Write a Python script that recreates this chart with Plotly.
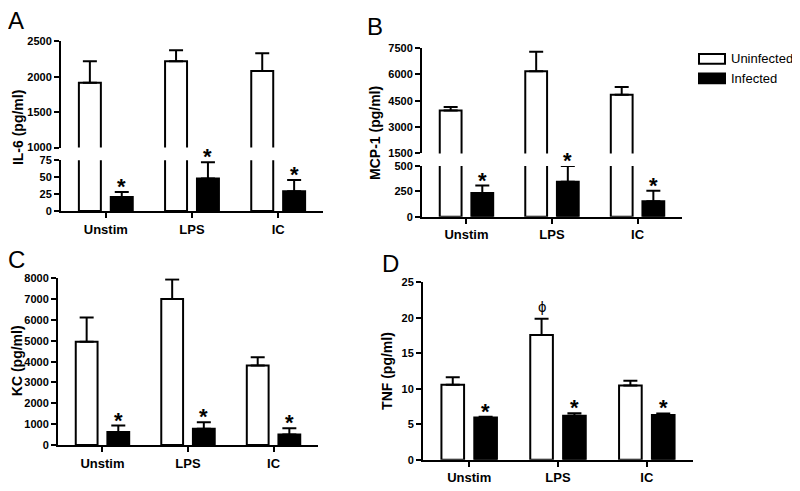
import plotly.graph_objects as go

# ---------------- data ----------------
categories = ["Unstim", "LPS", "IC"]

il6_uninf = [1915, 2220, 2080]
il6_uninf_err = [305, 155, 250]
il6_inf = [20.5, 48, 29]
il6_inf_err = [7.5, 24, 17]

mcp_uninf = [3940, 6180, 4850]
mcp_uninf_err = [210, 1110, 440]
mcp_inf = [234, 346, 154]
mcp_inf_err = [74, 154, 103]

kc_uninf = [4950, 7010, 3820]
kc_uninf_err = [1170, 930, 390]
kc_inf = [620, 780, 510]
kc_inf_err = [315, 310, 300]

tnf_uninf = [10.55, 17.55, 10.45]
tnf_uninf_err = [1.05, 2.3, 0.65]
tnf_inf = [5.95, 6.2, 6.3]
tnf_inf_err = [0.08, 0.35, 0.2]

il6_upper_ticks = [1000, 1500, 2000, 2500]
il6_lower_ticks = [0, 25, 50, 75]
mcp_upper_ticks = [1500, 3000, 4500, 6000, 7500]
mcp_lower_ticks = [0, 250, 500]
kc_ticks = [0, 1000, 2000, 3000, 4000, 5000, 6000, 7000, 8000]
tnf_ticks = [0, 5, 10, 15, 20, 25]

# ---------------- styling ----------------
OX, OY = 8, 8          # page body margin offset
W, H = 792, 483
F = "Arial, Liberation Sans, sans-serif"
OFF = 0.185
BW = 0.255
pos = list(range(len(categories)))

def fx(px):
    return (px - OX) / W

def fy(py):
    return 1 - (py - OY) / H

fig = go.Figure()

def add_bars(xa, ya, uninf, uerr, inf, ierr, show_uerr=True, show_ierr=True, stars=True, phi_idx=None):
    ex = dict(type="data", symmetric=False, array=uerr, arrayminus=[0] * len(uerr),
              thickness=2, width=7, color="black", visible=show_uerr)
    fig.add_trace(go.Bar(x=[p - OFF for p in pos], y=uninf, width=BW, xaxis=xa, yaxis=ya,
                         marker=dict(color="white", line=dict(color="black", width=2)),
                         error_y=ex, showlegend=False, hoverinfo="skip"))
    ex2 = dict(type="data", symmetric=False, array=ierr, arrayminus=[0] * len(ierr),
               thickness=2, width=7, color="black", visible=show_ierr)
    fig.add_trace(go.Bar(x=[p + OFF for p in pos], y=inf, width=BW, xaxis=xa, yaxis=ya,
                         marker=dict(color="black", line=dict(color="black", width=2)),
                         error_y=ex2, showlegend=False, hoverinfo="skip"))
    if stars:
        for p, v, e in zip(pos, inf, ierr):
            fig.add_annotation(x=p + OFF, y=v + e, xref=xa, yref=ya, text="*", showarrow=False,
                               yanchor="bottom", yshift=-9,
                               font=dict(family=F, size=22, color="black", weight="bold"))
    if phi_idx is not None:
        p = pos[phi_idx]
        fig.add_annotation(x=p - OFF, y=uninf[phi_idx] + uerr[phi_idx], xref=xa, yref=ya,
                           text="ϕ", showarrow=False, yanchor="bottom", yshift=2,
                           font=dict(family=F, size=15, color="black"))

# Panel A (broken)
add_bars("x", "y", il6_uninf, il6_uninf_err, il6_inf, il6_inf_err, show_ierr=False, stars=False)
add_bars("x2", "y2", il6_uninf, il6_uninf_err, il6_inf, il6_inf_err, show_uerr=False)
# Panel B (broken)
add_bars("x3", "y3", mcp_uninf, mcp_uninf_err, mcp_inf, mcp_inf_err, show_ierr=False, stars=False)
add_bars("x4", "y4", mcp_uninf, mcp_uninf_err, mcp_inf, mcp_inf_err, show_uerr=False)
# Panel C
add_bars("x5", "y5", kc_uninf, kc_uninf_err, kc_inf, kc_inf_err)
# Panel D
add_bars("x6", "y6", tnf_uninf, tnf_uninf_err, tnf_inf, tnf_inf_err, phi_idx=1)

# empty traces so the break-mark overlay axes get drawn
for xa, ya in [("x", "y7"), ("x2", "y8"), ("x3", "y9"), ("x4", "y10")]:
    fig.add_trace(go.Scatter(x=[], y=[], xaxis=xa, yaxis=ya, showlegend=False, hoverinfo="skip"))

tickfont_y = dict(family=F, size=11, color="black", weight="bold")
tickfont_x = dict(family=F, size=13, color="black", weight="bold")

def xax(dom, anchor, visible=True):
    d = dict(domain=dom, range=[-0.52, 2.52], anchor=anchor, tickvals=pos, ticktext=categories,
             showgrid=False, zeroline=False, fixedrange=True)
    if visible:
        d.update(showline=True, linewidth=2, linecolor="black", ticks="outside", ticklen=5,
                 tickwidth=2, tickcolor="black", tickfont=tickfont_x)
    else:
        d.update(showline=False, ticks="", showticklabels=False)
    return d

def yax(dom, rng, ticks, anchor):
    return dict(domain=dom, range=rng, anchor=anchor, tickvals=ticks, showgrid=False,
                zeroline=False, showline=True, linewidth=2, linecolor="black", ticks="outside",
                ticklen=5, tickwidth=2, tickcolor="black", tickfont=tickfont_y, fixedrange=True)

def break_ax(base, dom, rng, tick, anchor):
    # small inward stub marking the axis break
    return dict(overlaying=base, domain=dom, range=rng, anchor=anchor, side="left",
                tickvals=[tick], ticks="inside", ticklen=4, tickwidth=2, tickcolor="black",
                showticklabels=False, showline=False, showgrid=False, zeroline=False,
                fixedrange=True)

layout = dict(
    width=W, height=H, margin=dict(l=0, r=0, t=0, b=0),
    paper_bgcolor="white", plot_bgcolor="white", showlegend=False,
    font=dict(family=F, color="black"),
    xaxis=xax([fx(61), fx(323)], "y", visible=False),
    yaxis=yax([fy(145), fy(36)], [1000, 2500], il6_upper_ticks, "x"),
    xaxis2=xax([fx(61), fx(323)], "y2"),
    yaxis2=yax([fy(210), fy(158)], [0, 75], il6_lower_ticks, "x2"),
    xaxis3=xax([fx(422), fx(682)], "y3", visible=False),
    yaxis3=yax([fy(151), fy(43)], [1500, 7500], mcp_upper_ticks, "x3"),
    xaxis4=xax([fx(422), fx(682)], "y4"),
    yaxis4=yax([fy(216), fy(164)], [0, 500], mcp_lower_ticks, "x4"),
    xaxis5=xax([fx(58), fx(318)], "y5"),
    yaxis5=yax([fy(450), fy(279)], [0, 8000], kc_ticks, "x5"),
    xaxis6=xax([fx(423), fx(693)], "y6"),
    yaxis6=yax([fy(465), fy(283)], [0, 25], tnf_ticks, "x6"),
    yaxis7=break_ax("y", [fy(145), fy(36)], [1000, 2500], il6_upper_ticks[0], "x"),
    yaxis8=break_ax("y2", [fy(210), fy(158)], [0, 75], il6_lower_ticks[-1], "x2"),
    yaxis9=break_ax("y3", [fy(151), fy(43)], [1500, 7500], mcp_upper_ticks[0], "x3"),
    yaxis10=break_ax("y4", [fy(216), fy(164)], [0, 500], mcp_lower_ticks[-1], "x4"),
)
fig.update_layout(**layout)

# y-axis titles
for txt, px, py in [("IL-6 (pg/ml)", 18, 125), ("MCP-1 (pg/ml)", 375, 130),
                    ("KC (pg/ml)", 17, 364), ("TNF (pg/ml)", 387, 374)]:
    fig.add_annotation(x=fx(px), y=fy(py), xref="paper", yref="paper", text=txt, textangle=-90,
                       showarrow=False, xanchor="center", yanchor="middle",
                       font=dict(family=F, size=14, color="black", weight="bold"))

# panel letters
for txt, px, py in [("A", 16, 15), ("B", 375, 21), ("C", 16, 260), ("D", 390, 264)]:
    fig.add_annotation(x=fx(px), y=fy(py), xref="paper", yref="paper", text=txt, showarrow=False,
                       xanchor="center", yanchor="middle", font=dict(family=F, size=24, color="black"))

# legend
fig.add_shape(type="rect", xref="paper", yref="paper", x0=fx(699), x1=fx(725), y0=fy(59), y1=fy(49),
              line=dict(color="black", width=2), fillcolor="white")
fig.add_shape(type="rect", xref="paper", yref="paper", x0=fx(699), x1=fx(725), y0=fy(79), y1=fy(69),
              line=dict(color="black", width=2), fillcolor="black")
for txt, py in [("Uninfected", 54), ("Infected", 74)]:
    fig.add_annotation(x=fx(729), y=fy(py), xref="paper", yref="paper", text=txt, showarrow=False,
                       xanchor="left", yanchor="middle", font=dict(family=F, size=13, color="black"))

fig.write_html("out.html")
